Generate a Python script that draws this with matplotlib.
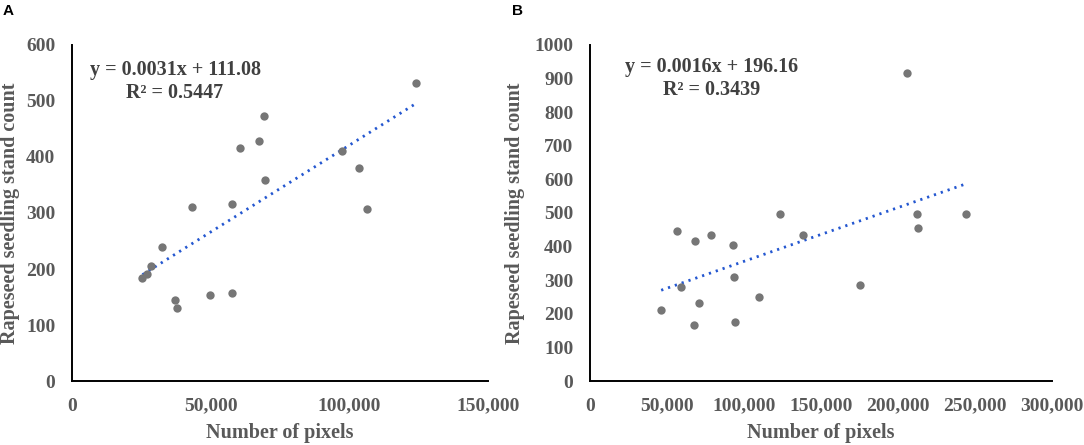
import matplotlib
matplotlib.use("Agg")
import matplotlib.pyplot as plt
from matplotlib.ticker import FuncFormatter, MultipleLocator
import numpy as np

# ---------------- data ----------------
a_pixels = [25400, 27200, 28650, 32500, 37200, 38040, 43100, 49840, 57660,
            57660, 60550, 67300, 69100, 69700, 97500, 103400, 106300, 123900]
a_counts = [184.5, 191.7, 206, 239, 144, 131, 310.7, 153, 316,
            156.5, 416, 429, 472.6, 359.5, 410, 380, 307.7, 533]
a_slope, a_intercept = 0.0031, 111.08
a_eq = "y = 0.0031x + 111.08"
a_r2 = "R² = 0.5447"

b_pixels = [46220, 56800, 58960, 67390, 68250, 71060, 78830, 93090, 93520,
            94170, 109930, 123110, 138230, 175590, 206050, 212310, 212960, 244060]
b_counts = [211, 445, 281, 168, 416, 232, 435.5, 404, 309.5,
            176.6, 250, 498, 433.5, 285.7, 915.7, 498, 454, 496]
b_slope, b_intercept = 0.0016, 196.16
b_eq = "y = 0.0016x + 196.16"
b_r2 = "R² = 0.3439"

x_label = "Number of pixels"
y_label = "Rapeseed seedling stand count"

# ---------------- style ----------------
W, H = 1084, 445
fig = plt.figure(figsize=(W / 100, H / 100), dpi=100)
serif = "Liberation Serif"
tick_color = "#595959"
eq_color = "#404040"
pt_color = "#767676"
line_color = "#2457D0"


def px_axes(l, r, t, b):
    return fig.add_axes([l / W, (H - b) / H, (r - l) / W, (b - t) / H])


def setup(ax, xmax, xstep, ymax, ystep, ylabel_x_px):
    ax.set_xlim(0, xmax)
    ax.set_ylim(0, ymax)
    ax.xaxis.set_major_locator(MultipleLocator(xstep))
    ax.yaxis.set_major_locator(MultipleLocator(ystep))
    ax.xaxis.set_major_formatter(FuncFormatter(lambda v, p: f"{v:,.0f}"))
    ax.yaxis.set_major_formatter(FuncFormatter(lambda v, p: f"{v:.0f}"))
    for s in ("top", "right"):
        ax.spines[s].set_visible(False)
    for s in ("left", "bottom"):
        ax.spines[s].set_linewidth(1.4)
        ax.spines[s].set_color("black")
    ax.tick_params(length=0, pad=12, labelsize=14, labelcolor=tick_color)
    for lab in ax.get_xticklabels() + ax.get_yticklabels():
        lab.set_fontfamily(serif)
        lab.set_fontweight("bold")
    ax.set_xlabel(x_label, fontsize=14.5, fontfamily=serif, fontweight="bold",
                  color=tick_color, labelpad=6)
    ax.set_ylabel(y_label, fontsize=14.5, fontfamily=serif, fontweight="bold",
                  color=tick_color)
    bb = ax.get_position()
    ax.yaxis.set_label_coords((ylabel_x_px / W - bb.x0) / bb.width, 0.5)


def panel(ax, xs, ys, slope, intercept, eq, r2, eqx, eqy1, eqy2):
    ax.scatter(xs, ys, s=36, color=pt_color, zorder=3, clip_on=False,
               linewidths=0)
    xx = np.array([min(xs), max(xs)])
    ax.plot(xx, slope * xx + intercept, color=line_color, lw=2.0,
            linestyle=(0, (0.8, 1.8)), zorder=2)
    ax.text(eqx, eqy1, eq, transform=ax.transAxes, ha="center", va="center",
            fontsize=14.5, fontfamily=serif, fontweight="bold", color=eq_color)
    ax.text(eqx, eqy2, r2, transform=ax.transAxes, ha="center", va="center",
            fontsize=14.5, fontfamily=serif, fontweight="bold", color=eq_color)


axA = px_axes(72, 488, 45, 381)
panel(axA, a_pixels, a_counts, a_slope, a_intercept, a_eq, a_r2,
      0.2476, 0.9256, 0.857)
setup(axA, 150000, 50000, 600, 100, 20)

axB = px_axes(590, 1052, 45, 381)
panel(axB, b_pixels, b_counts, b_slope, b_intercept, b_eq, b_r2,
      0.263, 0.9354, 0.866)
setup(axB, 300000, 50000, 1000, 100, 525)

fig.text(3 / W, 1 - 11 / H, "A", fontsize=11, fontweight="bold",
         fontfamily="Liberation Sans", va="center", ha="left")
fig.text(512 / W, 1 - 11 / H, "B", fontsize=11, fontweight="bold",
         fontfamily="Liberation Sans", va="center", ha="left")

fig.savefig("out.png", dpi=100)
